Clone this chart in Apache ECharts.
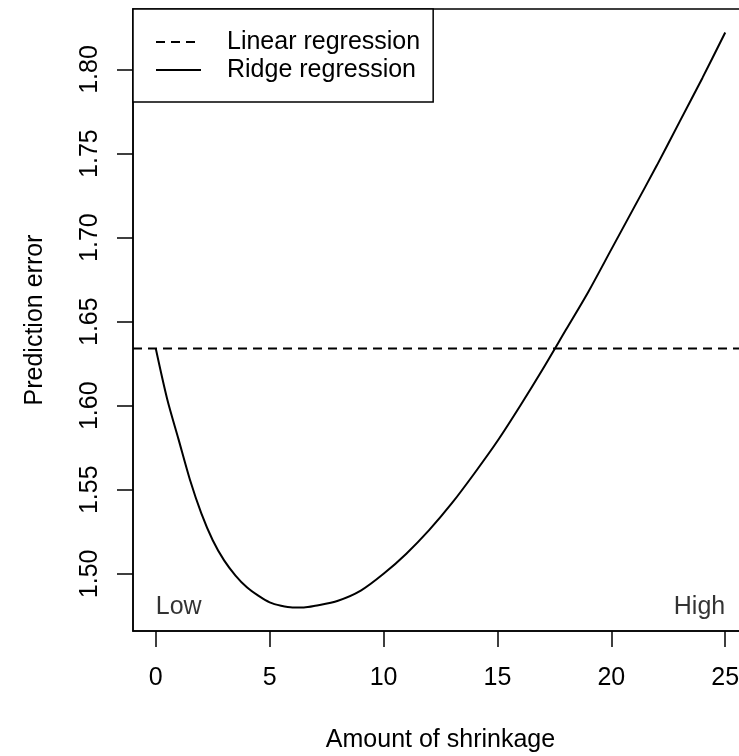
<!DOCTYPE html>
<html>
<head>
<meta charset="utf-8">
<script src="https://cdn.jsdelivr.net/npm/echarts@6/dist/echarts.min.js"></script>
<style>
	html, body { margin: 0; padding: 0; background: #fff; }
	#chart { width: 739px; height: 756px; }
</style>
</head>
<body>
<div id="chart"></div>
<script>
	// amount of shrinkage (x) and ridge prediction error
	var shrinkage = [0, 0.5, 1, 1.5, 2, 2.5, 3, 3.5, 4, 4.5, 5, 5.5, 6, 6.5, 7, 8, 9, 10, 11, 12, 13, 14, 15, 16, 17, 18, 19, 20, 21, 22, 23, 24, 25];
	var ridgeError = [1.634, 1.604, 1.580, 1.556, 1.536, 1.520, 1.508, 1.499, 1.492, 1.487, 1.483, 1.481, 1.480, 1.480, 1.481, 1.484, 1.490, 1.500, 1.512, 1.526, 1.542, 1.560, 1.579, 1.600, 1.622, 1.645, 1.668, 1.693, 1.718, 1.743, 1.769, 1.795, 1.822];
	var linearError = 1.634;	// linear regression, flat line
	var xTicks = [0, 5, 10, 15, 20, 25];
	var yTicks = [1.50, 1.55, 1.60, 1.65, 1.70, 1.75, 1.80];
	var xRange = [-1, 26];
	var yRange = [1.466, 1.836];
	var notes = [
		{ name: 'Low', x: 0, y: 1.480, side: 'right' },
		{ name: 'High', x: 25, y: 1.480, side: 'left' }
	];

	var font = 'Liberation Sans, Arial, Helvetica, sans-serif';
	var ridgeData = shrinkage.map(function (x, i) { return [x, ridgeError[i]]; });

	var chart = echarts.init(document.getElementById('chart'));
	chart.setOption({
		animation: false,
		backgroundColor: '#fff',
		textStyle: { fontFamily: font, color: '#000' },
		grid: {
			left: 133, top: 9, bottom: 125, right: -9,
			outerBoundsMode: 'none',
			show: true, borderColor: '#000', borderWidth: 1.5, backgroundColor: 'transparent'
		},
		legend: {
			data: ['Linear regression', 'Ridge regression'],
			orient: 'vertical',
			left: 133, top: 9,
			padding: [19, 13, 18, 22],
			itemGap: 0,
			itemWidth: 45,
			itemHeight: 14,
			itemStyle: { opacity: 0 },
			borderColor: '#000',
			borderWidth: 1.5,
			backgroundColor: '#fff',
			textStyle: { fontFamily: font, fontSize: 25, color: '#000', lineHeight: 28, padding: [0, 0, 0, 21] }
		},
		xAxis: {
			type: 'value',
			position: 'bottom',
			min: xRange[0], max: xRange[1],
			name: 'Amount of shrinkage',
			nameLocation: 'middle',
			nameGap: 97,
			nameTextStyle: { fontFamily: font, fontSize: 25, color: '#000' },
			axisLine: { show: true, onZero: false, lineStyle: { color: '#000', width: 1.5 } },
			splitLine: { show: false },
			axisTick: { show: true, length: 16, customValues: xTicks, lineStyle: { color: '#000', width: 1.5 } },
			axisLabel: { customValues: xTicks, margin: 35, fontSize: 25, color: '#000', fontFamily: font }
		},
		yAxis: {
			type: 'value',
			position: 'left',
			min: yRange[0], max: yRange[1],
			name: 'Prediction error',
			nameLocation: 'middle',
			nameRotate: 90,
			nameGap: 85,
			nameTextStyle: { fontFamily: font, fontSize: 25, color: '#000' },
			axisLine: { show: true, onZero: false, lineStyle: { color: '#000', width: 1.5 } },
			splitLine: { show: false },
			axisTick: { show: true, length: 16, customValues: yTicks, lineStyle: { color: '#000', width: 1.5 } },
			axisLabel: {
				customValues: yTicks, rotate: 90, margin: 30, fontSize: 25, color: '#000', fontFamily: font,
				formatter: function (v) { return v.toFixed(2); }
			}
		},
		series: [
			{
				name: 'Linear regression',
				type: 'line',
				symbol: 'none',
				silent: true,
				lineStyle: { color: '#000', width: 2, type: [9, 6] },
				itemStyle: { color: '#000' },
				data: [[xRange[0], linearError], [xRange[1], linearError]]
			},
			{
				name: 'Ridge regression',
				type: 'line',
				symbol: 'none',
				smooth: 0.3,
				silent: true,
				lineStyle: { color: '#000', width: 2 },
				itemStyle: { color: '#000' },
				data: ridgeData
			},
			{
				name: 'notes',
				type: 'scatter',
				symbolSize: 0,
				silent: true,
				data: notes.map(function (n) {
					return {
						name: n.name,
						value: [n.x, n.y],
						label: { show: true, position: n.side, distance: 0, formatter: '{b}', fontSize: 25, color: '#000', fontFamily: font }
					};
				})
			}
		]
	});
</script>
</body>
</html>
